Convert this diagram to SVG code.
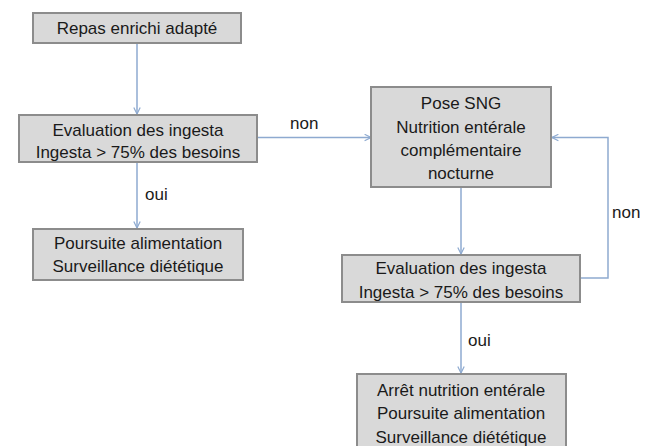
<svg xmlns="http://www.w3.org/2000/svg" width="654" height="446" viewBox="0 0 654 446">
<defs>
<style>
.box{fill:#d9d9d9;stroke:#8c8c8c;stroke-width:2}
.t{font-family:"Liberation Sans",Arial,sans-serif;font-size:17px;fill:#1a1a1a;text-anchor:middle}
.l{font-family:"Liberation Sans",Arial,sans-serif;font-size:17px;fill:#1a1a1a}
.c{fill:none;stroke:#8eaad0;stroke-width:1.5}
</style>
<marker id="arr" viewBox="0 0 10 10" refX="9" refY="5" markerWidth="8" markerHeight="8" orient="auto" markerUnits="userSpaceOnUse">
<path d="M1,1 L9,5 L1,9" fill="none" stroke="#8eaad0" stroke-width="1.5"/>
</marker>
</defs>
<rect width="654" height="446" fill="#ffffff"/>
<g id="connectors">
<path class="c" d="M137,43 V114" marker-end="url(#arr)"/>
<path class="c" d="M137,162 V228" marker-end="url(#arr)"/>
<path class="c" d="M257,137.5 H371" marker-end="url(#arr)"/>
<path class="c" d="M461,187 V254" marker-end="url(#arr)"/>
<path class="c" d="M580,278 H608 V137.5 H552" marker-end="url(#arr)"/>
<path class="c" d="M461,302 V373" marker-end="url(#arr)"/>
<text class="l" x="290" y="129">non</text>
<text class="l" x="145" y="200">oui</text>
<text class="l" x="612" y="218">non</text>
<text class="l" x="468" y="346">oui</text>
</g>
<g id="n1">
<rect class="box" x="33" y="13" width="208" height="30"/>
<text class="t" x="137" y="34">Repas enrichi adapté</text>
</g>
<g id="n2">
<rect class="box" x="19" y="115" width="238" height="47"/>
<text class="t" x="138" y="136">Evaluation des ingesta</text>
<text class="t" x="138" y="158">Ingesta &gt; 75% des besoins</text>
</g>
<g id="n3">
<rect class="box" x="33" y="229" width="210" height="51"/>
<text class="t" x="138" y="249">Poursuite alimentation</text>
<text class="t" x="138" y="272">Surveillance diététique</text>
</g>
<g id="n4">
<rect class="box" x="371" y="87" width="180" height="100"/>
<text class="t" x="461" y="109">Pose SNG</text>
<text class="t" x="461" y="133">Nutrition entérale</text>
<text class="t" x="461" y="156">complémentaire</text>
<text class="t" x="461" y="179">nocturne</text>
</g>
<g id="n5">
<rect class="box" x="342" y="255" width="238" height="47"/>
<text class="t" x="461" y="274">Evaluation des ingesta</text>
<text class="t" x="461" y="298">Ingesta &gt; 75% des besoins</text>
</g>
<g id="n6">
<rect class="box" x="357" y="374" width="209" height="80"/>
<text class="t" x="461" y="396">Arrêt nutrition entérale</text>
<text class="t" x="461" y="419">Poursuite alimentation</text>
<text class="t" x="461" y="443">Surveillance diététique</text>
</g>
</svg>
